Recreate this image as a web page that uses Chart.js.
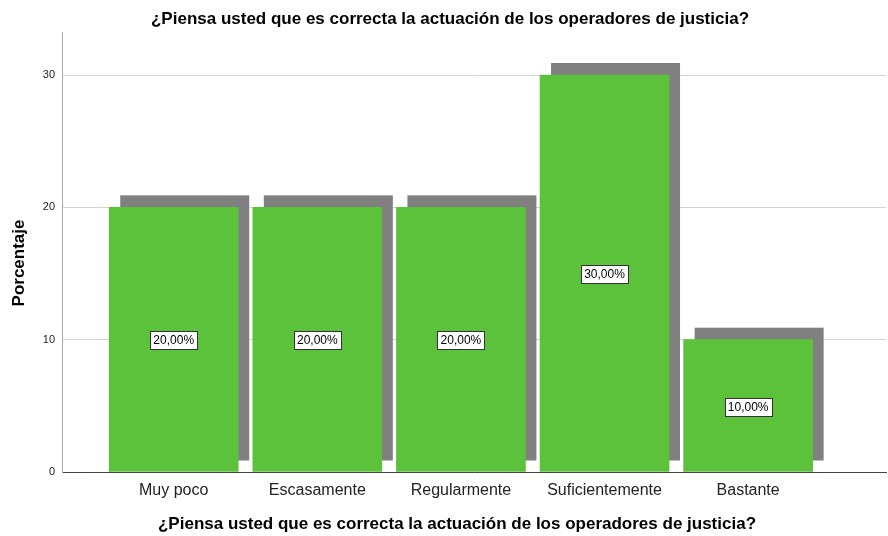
<!DOCTYPE html>
<html>
<head>
<meta charset="utf-8">
<script src="https://cdn.jsdelivr.net/npm/chart.js@4.4.1/dist/chart.umd.min.js"></script>
<style>
  html, body { margin: 0; padding: 0; background: #fff; }
  #wrap { width: 888px; height: 536px; }
</style>
</head>
<body>
<div id="wrap"><canvas id="chart" width="888" height="536"></canvas></div>
<script>
// ===== Data =====
const categories = ["Muy poco", "Escasamente", "Regularmente", "Suficientemente", "Bastante"];
const percentages = [20, 20, 20, 30, 10];
const yTicks = [0, 10, 20, 30];

const titleText = "¿Piensa usted que es correcta la actuación de los operadores de justicia?";
const yTitle = "Porcentaje";

const FONT = "'Liberation Sans', Arial, sans-serif";
const GREEN = "#5dc23b";
const SHADOW = "#808080";

// ===== Shadow behind every bar =====
const shadowPlugin = {
  id: "barShadow",
  beforeDatasetsDraw(chart) {
    const ctx = chart.ctx;
    const meta = chart.getDatasetMeta(0);
    ctx.save();
    ctx.fillStyle = SHADOW;
    meta.data.forEach(bar => {
      const p = bar.getProps(["x", "y", "base", "width"], true);
      ctx.fillRect(p.x - p.width / 2 + 11, p.y - 12, p.width, (p.base - 11) - (p.y - 12));
    });
    ctx.restore();
  }
};

// ===== Value boxes in the middle of the bars =====
const labelPlugin = {
  id: "valueBoxes",
  afterDatasetsDraw(chart) {
    const ctx = chart.ctx;
    const meta = chart.getDatasetMeta(0);
    ctx.save();
    ctx.font = "12px " + FONT;
    ctx.textAlign = "center";
    ctx.textBaseline = "middle";
    meta.data.forEach((bar, i) => {
      const p = bar.getProps(["x", "y", "base"], true);
      const cy = Math.round((p.y + p.base) / 2) + 1;
      const txt = percentages[i].toFixed(2).replace(".", ",") + "%";
      const w = Math.ceil(ctx.measureText(txt).width) + 6;
      const h = 18;
      const bx = Math.round(p.x - w / 2) + 0.5;
      const by = Math.round(cy - h / 2) + 0.5;
      ctx.fillStyle = "#fff";
      ctx.fillRect(bx, by, w, h);
      ctx.strokeStyle = "#333";
      ctx.lineWidth = 1;
      ctx.strokeRect(bx, by, w, h);
      ctx.fillStyle = "#000";
      ctx.fillText(txt, p.x, cy + 1);
    });
    ctx.restore();
  }
};

// ===== Titles =====
const titlesPlugin = {
  id: "titles",
  afterDraw(chart) {
    const ctx = chart.ctx;
    ctx.save();
    ctx.fillStyle = "#000";
    ctx.font = "bold 17px " + FONT;
    ctx.textAlign = "center";
    ctx.textBaseline = "alphabetic";
    ctx.fillText(titleText, 450, 23.5);
    ctx.fillText(titleText, 457, 529);
    ctx.translate(19, 263);
    ctx.rotate(-Math.PI / 2);
    ctx.textBaseline = "middle";
    ctx.fillText(yTitle, 0, 0);
    ctx.restore();
  }
};

const ctx = document.getElementById("chart");
new Chart(ctx, {
  type: "bar",
  data: {
    datasets: [{
      data: categories.map((c, i) => ({ x: i, y: percentages[i] })),
      backgroundColor: GREEN,
      borderWidth: 0,
      barThickness: 129
    }]
  },
  options: {
    responsive: false,
    animation: false,
    layout: { padding: { top: 32, right: 2, left: 0, bottom: 0 } },
    plugins: {
      legend: { display: false },
      tooltip: { enabled: false },
      title: { display: false }
    },
    scales: {
      x: {
        type: "linear",
        offset: false,
        min: -0.778,
        max: 4.96,
        afterBuildTicks: scale => { scale.ticks = categories.map((c, i) => ({ value: i })); },
        afterFit: scale => { scale.height = 64; },
        grid: { display: false, drawTicks: false },
        border: { display: true, color: "#444", width: 1 },
        ticks: {
          autoSkip: false,
          maxRotation: 0,
          padding: 9,
          color: "#222",
          font: { family: FONT, size: 16 },
          callback: v => categories[v]
        }
      },
      y: {
        min: 0,
        max: 33.25,
        afterBuildTicks: scale => { scale.ticks = yTicks.map(v => ({ value: v })); },
        afterFit: scale => { scale.width = 62; },
        grid: { color: "#d4d4d4", drawTicks: false },
        border: { display: true, color: "#aaa", width: 1 },
        ticks: {
          padding: 7,
          color: "#222",
          font: { family: FONT, size: 11 }
        }
      }
    }
  },
  plugins: [shadowPlugin, labelPlugin, titlesPlugin]
});
</script>
</body>
</html>
